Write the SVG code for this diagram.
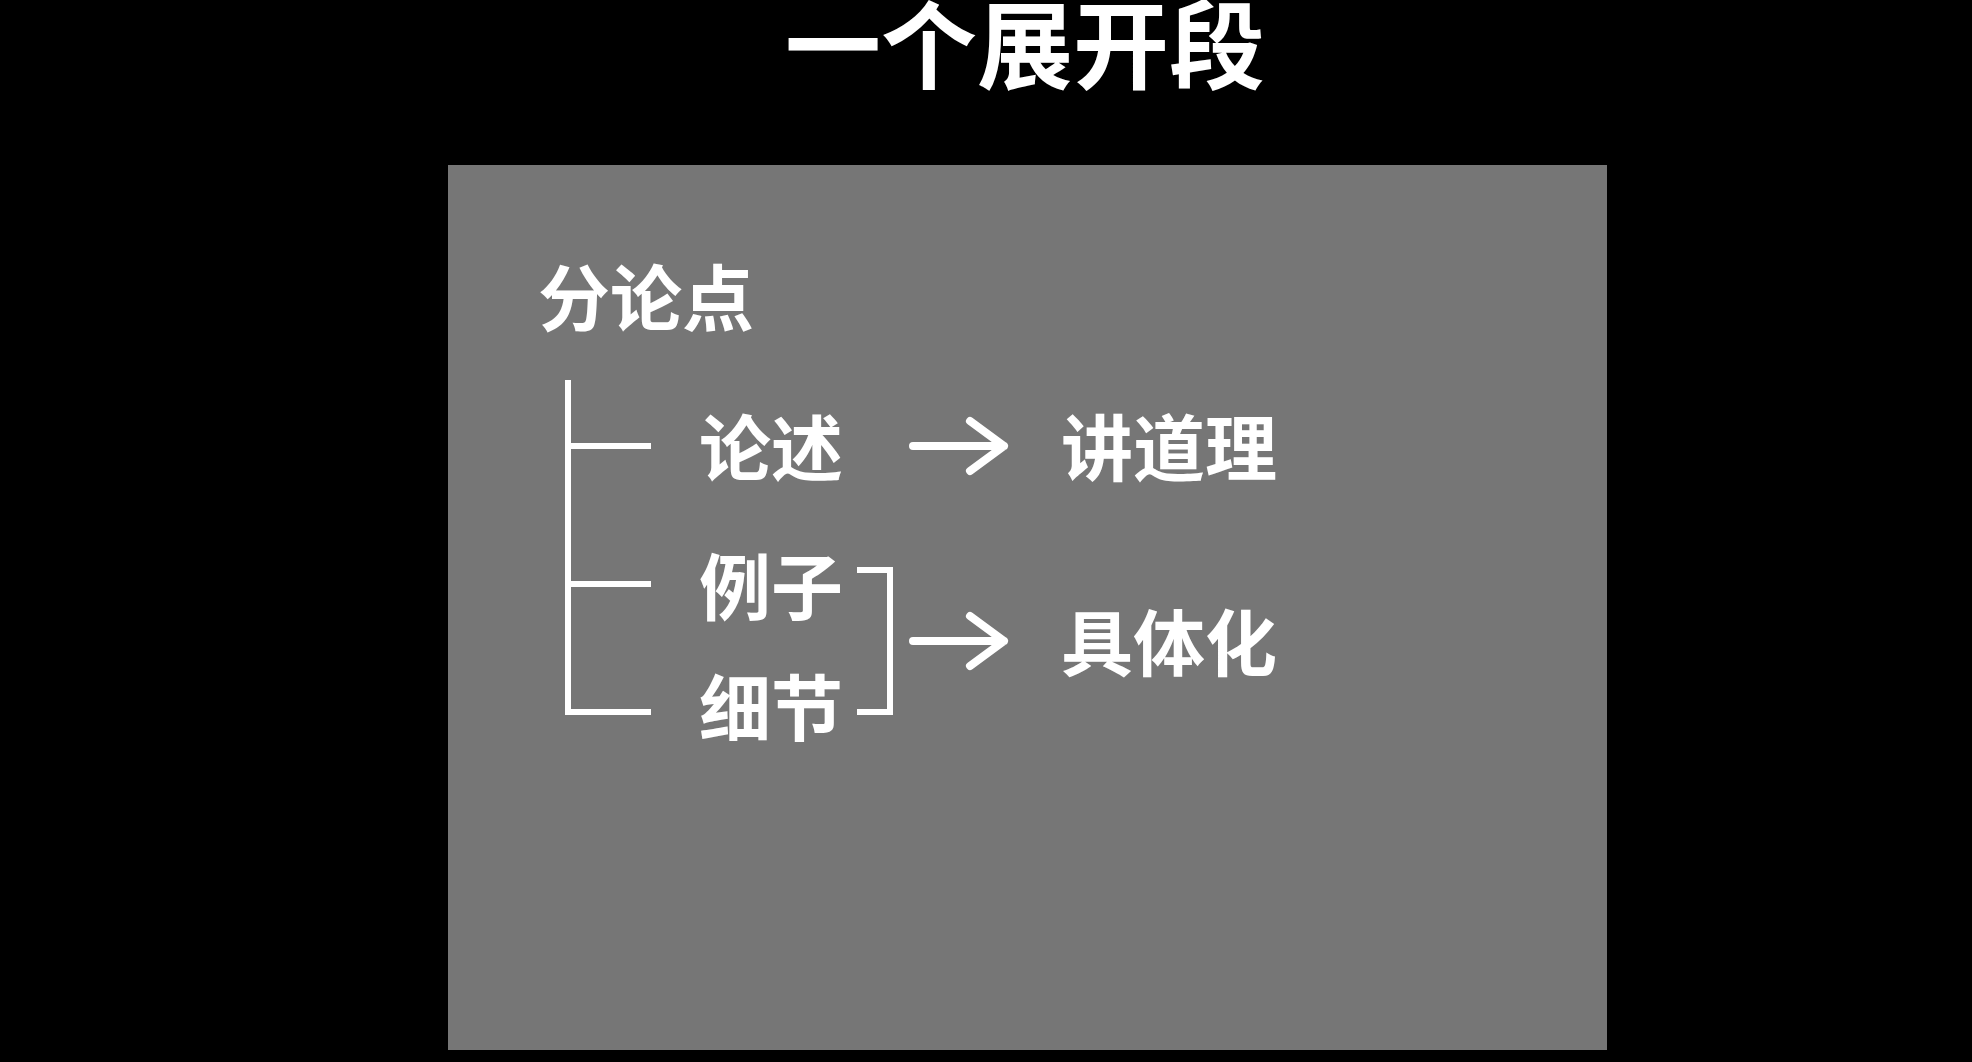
<svg xmlns="http://www.w3.org/2000/svg" width="1972" height="1062" viewBox="0 0 1972 1062">
<style>
.t{font-family:"Noto Sans CJK SC","Noto Sans",sans-serif;font-weight:bold;fill:#ffffff}
.ln{stroke:#ffffff;stroke-width:6;fill:none;stroke-linecap:butt}
.ar{stroke:#ffffff;stroke-width:8;fill:none;stroke-linecap:round;stroke-linejoin:round}
</style>
<rect x="0" y="0" width="1972" height="1062" fill="#000000"/>
<g id="title"><text class="t" x="785" y="81" font-size="96">一个展开段</text></g>
<g id="panel"><rect x="448" y="165" width="1159" height="885" fill="#767676"/></g>
<g id="root"><text class="t" x="538" y="325" font-size="72">分论点</text></g>
<g id="n-lunshu"><text class="t" x="699" y="475" font-size="72">论述</text></g>
<g id="n-jiangdaoli"><text class="t" x="1061" y="475" font-size="72">讲道理</text></g>
<g id="n-lizi"><text class="t" x="699" y="614" font-size="72">例子</text></g>
<g id="n-xijie"><text class="t" x="699" y="735" font-size="72">细节</text></g>
<g id="n-jutihua"><text class="t" x="1061" y="670" font-size="72">具体化</text></g>
<g id="connectors">
<path class="ln" d="M568 380 V712 H651 M568 446 H651 M568 584 H651"/>
<path class="ln" d="M857 570 H890 V712 H857"/>
<path class="ar" d="M913 446 H1004 M970 421 L1004 446 L970 471"/>
<path class="ar" d="M913 641 H1004 M970 616 L1004 641 L970 666"/>
</g>
</svg>
